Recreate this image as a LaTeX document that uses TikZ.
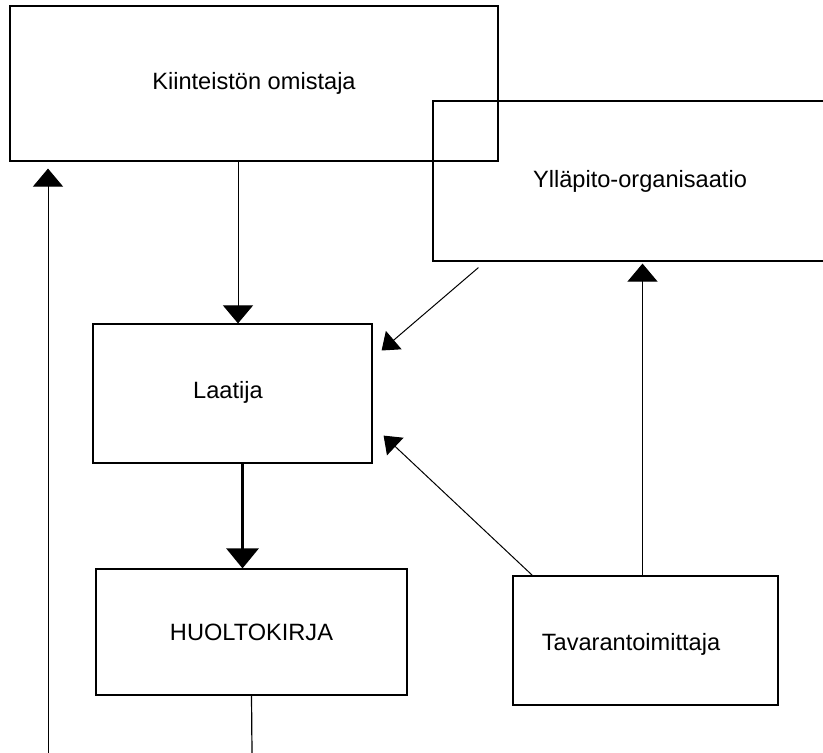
\documentclass[tikz,border=0pt]{standalone}
\usepackage{fontspec}
\setmainfont{Liberation Sans}
\usepackage{tikz}
\usetikzlibrary{positioning,arrows.meta}

\tikzset{
  box/.style={draw, line width=0.6pt, inner sep=0pt, font=\fontsize{11.8}{14}\selectfont},
  lbl/.style={inner sep=0pt, font=\fontsize{11.8}{14}\selectfont},
  arr/.style={line width=0.5pt, -{Triangle[width=15pt,length=9pt]}},
  smallarr/.style={line width=0.5pt, -{Triangle[width=12pt,length=8pt]}}
}

\begin{document}
\begin{tikzpicture}[x=0.5pt,y=-0.5pt]

\clip (0,0) rectangle (823,753);

\node[box, minimum width=244pt, minimum height=77.5pt] (omistaja) at (254,83.5) {Kiinteistön omistaja};

\node[box, minimum width=208.5pt, minimum height=80pt] (yllapito) at (641.5,181) {};
\node[lbl] (yllapitotext) at (640,181) {Ylläpito-organisaatio};

\node[box, minimum width=139.5pt, minimum height=69.5pt] (laatija) at (232.5,393.5) {};
\node[lbl] (laatijatext) at (228,392) {Laatija};

\node[box, minimum width=155.5pt, minimum height=63pt] (huoltokirja) at (251.5,632) {HUOLTOKIRJA};

\node[box, minimum width=132.5pt, minimum height=64.5pt] (toimittaja) at (645.5,640.5) {};
\node[lbl] (toimittajatext) at (631,644) {Tavarantoimittaja};

\coordinate (vasenala) at (48,753);
\coordinate (huoltoala) at (252,753);

\draw[arr] ([xshift=-8pt]omistaja.south) -- ([xshift=-8pt]omistaja.south |- laatija.north);

\draw[line width=1.5pt, -{Triangle[width=16pt,length=10pt]}] ([xshift=5pt]laatija.south) -- ([xshift=5pt]laatija.south |- huoltokirja.north);

\draw[arr, shorten >=3.5pt] (vasenala) -- (vasenala |- omistaja.south);

\draw[line width=0.6pt] (huoltokirja.south) -- (huoltoala);

\draw[smallarr] ([shift={(46,6)}]yllapito.south west) -- ([shift={(9,-43)}]laatija.east);

\draw[smallarr] ([xshift=10pt]toimittaja.north west) -- ([shift={(11,-28)}]laatija.south east);

\draw[arr, shorten >=1pt] ([xshift=-1.5pt]toimittaja.north) -- ([xshift=-1.5pt]toimittaja.north |- yllapito.south);

\end{tikzpicture}
\end{document}
